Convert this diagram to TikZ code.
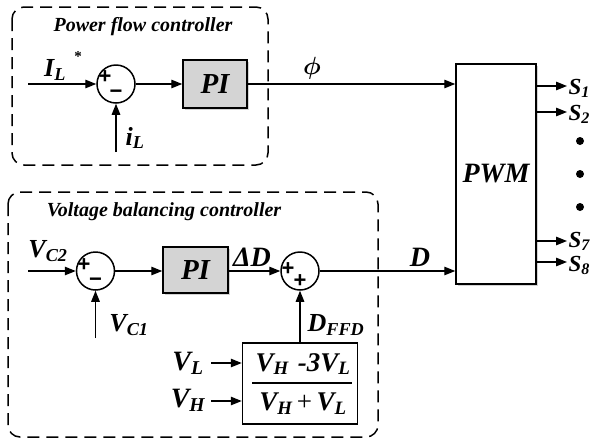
\documentclass[tikz,border=0pt]{standalone}
\usepackage{fontspec}
\setmainfont{Liberation Serif}
\newfontfamily\sgnfont{Liberation Sans}
\usetikzlibrary{arrows.meta,shadows}
\begin{document}
\begin{tikzpicture}[x=1pt,y=-1pt,
  line width=1.3pt,
  arr/.style={-{Triangle[length=11pt,width=8.5pt]}},
  sumc/.style={circle,draw,line width=1.5pt,minimum size=38pt,inner sep=0pt},
  blk/.style={draw,line width=1.5pt,fill=black!17,
    drop shadow={shadow xshift=1.8pt,shadow yshift=-1.8pt,opacity=0.35}},
  lbl/.style={font=\bfseries\itshape\fontsize{26}{28}\selectfont,inner sep=0pt},
  ttl/.style={font=\bfseries\itshape\fontsize{20}{24}\selectfont,inner sep=0pt},
  sgn/.style={font=\sgnfont\bfseries\fontsize{22}{22}\selectfont,inner sep=0pt},
  outl/.style={font=\bfseries\itshape\fontsize{23}{24}\selectfont,anchor=west,inner sep=0pt,text height=15pt,text depth=3pt},
  dotn/.style={circle,fill,inner sep=0pt,minimum size=8pt},
  grp/.style={draw,dash pattern=on 12pt off 7pt,line width=1.5pt,rounded corners=12pt}]
\useasboundingbox (0,0) rectangle (599,440);

% group frames
\draw[grp] (12,7) rectangle (268,165);
\draw[grp] (8,192) rectangle (378,437);
\node[ttl] (t1) at (143,27) {Power flow controller};
\node[ttl] (t2) at (164,212) {Voltage balancing controller};

% PWM block
\node[blk,fill=white,minimum width=80pt,minimum height=220pt] (pwm) at (496,174) {};
\node[lbl,font=\bfseries\itshape\fontsize{28}{30}\selectfont] (pwmt) at (pwm.center) {PWM};

% ---- power flow controller
\coordinate (in1) at (28,84);
\node[sumc] (s1) at (116,84) {};
\node[sgn] (s1p) at (105,77) {+};
\node[sgn] (s1m) at (116,94) {−};
\coordinate (il) at (116,152);
\node[blk,minimum width=64pt,minimum height=48pt] (pi1) at (215,84) {};
\node[lbl,font=\bfseries\itshape\fontsize{29}{30}\selectfont] (pi1t) at (pi1.center) {PI};
\draw[arr] (in1) -- (s1.west);
\draw[arr] (il) -- (s1.south);
\draw[arr] (s1.east) -- (pi1.west);
\draw[arr] (pi1.east) -- (pi1.east -| pwm.west);
\node[lbl] (ILs) at (55,70) {I\textsubscript{L}};
\node[lbl,font=\bfseries\fontsize{15}{15}\selectfont] (star) at (78,57) {*};
\node[lbl] (ilt) at (135,138) {i\textsubscript{L}};
\node[inner sep=0pt,font=\fontsize{27}{28}\selectfont\boldmath] (phi) at (312,68) {$\phi$};

% ---- voltage balancing controller
\coordinate (in2) at (28,271);
\node[sgn] (s2p) at (84,265) {+};
\node[sumc] (s2) at (95.5,271) {};
\node[sgn] (s2m) at (95.5,282) {−};
\coordinate (vc1) at (95.5,338);
\node[blk,minimum width=65pt,minimum height=46pt] (pi2) at (195.5,270) {};
\node[lbl,font=\bfseries\itshape\fontsize{29}{30}\selectfont] (pi2t) at (pi2.center) {PI};
\node[sumc] (s3) at (300,271) {};
\node[sgn] (s3p) at (288,269) {+};
\node[sgn] (s3q) at (300,281) {+};
\node[draw,line width=1.5pt,minimum width=115pt,minimum height=81pt] (fr) at (300,383.5) {};
\node[lbl,font=\bfseries\itshape\fontsize{27}{28}\selectfont] (num) at (303,364) {V\textsubscript{H}\,\,-3V\textsubscript{L}};
\node[lbl,font=\bfseries\itshape\fontsize{27}{28}\selectfont] (den) at (303,404) {V\textsubscript{H}\,{\normalfont+}\,V\textsubscript{L}};
\draw[line width=1.3pt] (252,383) -- (352,383);
\node[lbl,font=\bfseries\itshape\fontsize{28}{30}\selectfont] (vlt) at (188,363) {V\textsubscript{L}};
\node[lbl,font=\bfseries\itshape\fontsize{28}{30}\selectfont] (vht) at (188,400) {V\textsubscript{H}};
\draw[arr] (211,363) -- (211,363 -| fr.west);
\draw[arr] (211,401) -- (211,401 -| fr.west);

\draw[arr] (in2) -- (s2.west);
\draw[arr] (vc1) -- (s2.south);
\draw[arr] (s2.east) -- (pi2.west |- s2.east);
\draw[arr] (pi2.east |- s3.west) -- (s3.west);
\draw[arr] (fr.north) -- (s3.south);
\draw[arr] (s3.east) -- (s3.east -| pwm.west);

\node[lbl] (vc2t) at (48,251) {V\textsubscript{C2}};
\node[lbl] (vc1t) at (129,325) {V\textsubscript{C1}};
\node[lbl,font=\bfseries\itshape\fontsize{28}{30}\selectfont] (dDt) at (252,257) {ΔD};
\node[lbl] (dfft) at (336,325) {D\textsubscript{FFD}};
\node[lbl,font=\bfseries\itshape\fontsize{28}{30}\selectfont] (Dt) at (420,257) {D};

% ---- outputs
\foreach \n/\y/\s/\dy in {o1/86/1/2,o2/112/2/2,o7/241/7/0,o8/262/8/3}{
  \coordinate (\n) at (567,\y);
  \draw[arr] (pwm.east |- \n) -- (\n);
  \node[outl] (\n t) at (568,\y+\dy) {S\textsubscript{\s}};
}
\node[dotn] (d1) at (580,141) {};
\node[dotn] (d2) at (580,174) {};
\node[dotn] (d3) at (580,207) {};
\end{tikzpicture}
\end{document}
